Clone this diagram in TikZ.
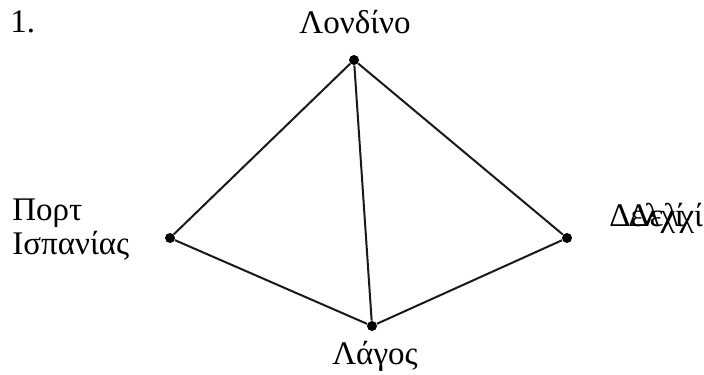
\documentclass[tikz,border=0pt]{standalone}
\usepackage{fontspec}
\setmainfont{Liberation Serif}
\usepackage{tikz}
\usetikzlibrary{positioning}
\tikzset{
    city/.style={circle, fill=black, inner sep=0pt, minimum size=5pt},
    road/.style={line width=1pt, black!90},
    lbl/.style={font=\fontsize{16.5}{17}\selectfont, inner sep=0pt},
}

\begin{document}
\begin{tikzpicture}[x=0.5pt, y=-0.5pt]
\useasboundingbox (0,0) rectangle (704,374);
\node[city] (lon) at (354,60) {};
\node[city] (por) at (170,238) {};
\node[city] (del) at (567,238) {};
\node[city] (lag) at (372,326) {};

\node[lbl, anchor=west] (num) at (10,22) {1.};
\node[lbl] (lonlbl) at (355,22) {Λονδίνο};
\node[lbl, anchor=west, align=left] (porlbl) at (12,230) {Πορτ\\Ισπανίας};
\node[lbl, anchor=west] (dellbl) at (609,218) {Δελχί};
\node[lbl, anchor=west] (dellblb) at (628,218) {Δελχί};
\node[lbl] (laglbl) at (375,356) {Λάγος};

\draw[road] (lon) -- (por);
\draw[road] (lon) -- (del);
\draw[road] (lon) -- (lag);
\draw[road] (por) -- (lag);
\draw[road] (lag) -- (del);
\end{tikzpicture}
\end{document}
